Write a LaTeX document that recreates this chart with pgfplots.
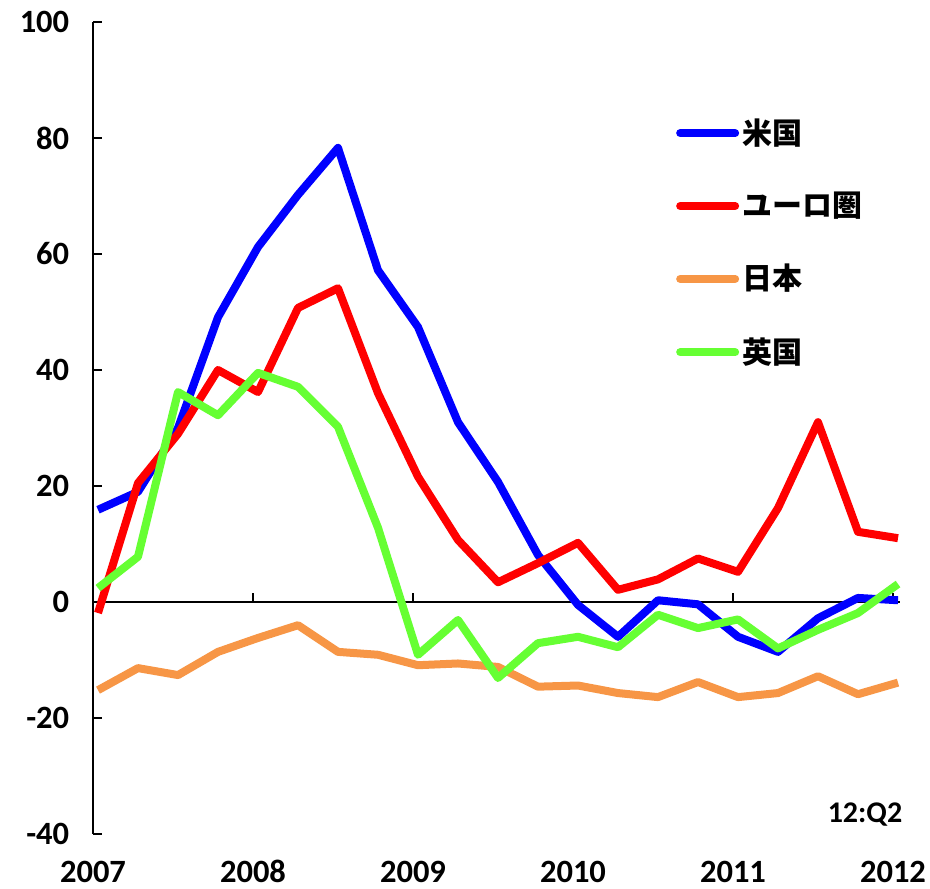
\documentclass[border=0pt]{standalone}
\usepackage{fontspec}
\setmainfont{Carlito}
\newfontfamily\cjk{Noto Sans CJK JP}
\usepackage{pgfplots}
\pgfplotsset{compat=1.18}
\definecolor{cblue}{RGB}{0,0,255}
\definecolor{cred}{RGB}{255,0,0}
\definecolor{corange}{RGB}{247,150,70}
\definecolor{cgreen}{RGB}{102,255,51}
\pgfplotstableread{
i us ez jp uk
0 15.9 -1.9 -15.2 2.4
1 19.0 20.5 -11.4 7.8
2 30.0 29.0 -12.6 36.2
3 49.1 40.0 -8.6 32.2
4 61.2 36.2 -6.2 39.5
5 70.2 50.7 -4.0 37.1
6 78.3 54.1 -8.6 30.2
7 57.2 36.0 -9.1 12.8
8 47.4 21.6 -10.9 -9.1
9 31.0 10.7 -10.6 -3.1
10 20.7 3.4 -11.2 -13.1
11 8.1 6.7 -14.6 -7.1
12 -0.5 10.2 -14.4 -6.0
13 -6.0 2.1 -15.7 -7.8
14 0.3 3.9 -16.4 -2.2
15 -0.4 7.5 -13.8 -4.5
16 -6.0 5.2 -16.4 -3.0
17 -8.6 16.2 -15.7 -8.0
18 -2.8 31.0 -12.8 -4.8
19 0.7 12.1 -15.9 -1.9
20 0.3 11.0 -13.9 3.1
}\datatable
\begin{document}
\begin{tikzpicture}
\useasboundingbox (-37.2pt,-22pt) rectangle (334.8pt,333.6pt);
% zero line with year ticks
\begin{axis}[at={(0pt,92.8pt)}, anchor=south west, scale only axis,
  width=322.8pt, height=232pt, xmin=-0.125, xmax=20.05, ymin=0, ymax=100,
  axis x line*=bottom, axis y line=none,
  xtick={3.875,7.875,11.875,15.875,19.875}, xticklabels={},
  tick align=inside, major tick length=3.6pt,
  x axis line style={line width=0.8pt, black},
  xtick style={line width=0.8pt, black}]
\end{axis}
\begin{axis}[at={(0pt,0pt)}, anchor=south west, scale only axis,
  width=322.8pt, height=324.8pt, xmin=-0.125, xmax=20.05, ymin=-40, ymax=100,
  axis y line*=left, axis x line*=bottom, x axis line style={draw=none},
  xtick={-0.125,3.875,7.875,11.875,15.875,19.875},
  xticklabels={2007,2008,2009,2010,2011,2012},
  xtick style={draw=none},
  ytick={-40,-20,0,20,40,60,80,100},
  tick align=inside, major tick length=3.6pt,
  y axis line style={line width=0.8pt, black},
  ytick style={line width=0.8pt, black},
  /pgf/number format/assume math mode=true,
  yticklabel style={font=\fontsize{13}{15}\selectfont\bfseries, xshift=-6pt},
  xticklabel style={font=\fontsize{13}{15}\selectfont\bfseries, anchor=north,
    text height=9pt, text depth=0pt, inner sep=0pt, yshift=-10pt},
  clip=false,
  legend style={at={(rel axis cs:0.722,0.888)}, anchor=north west, draw=none, fill=none,
    font=\fontsize{12}{14}\selectfont\bfseries, row sep=13.6pt, inner sep=0pt,
    nodes={inner xsep=1.5pt}},
  legend cell align=left,
  legend image code/.code={\draw[#1, line cap=round] (0pt,0pt) -- (22pt,0pt);},
  every axis plot/.append style={line width=3.2pt, line join=round, no markers}]
\addplot[cblue] table[x=i, y=us] {\datatable};
\addlegendentry{\cjk\bfseries 米国}
\addplot[cred] table[x=i, y=ez] {\datatable};
\addlegendentry{\cjk\bfseries ユーロ圏}
\addplot[corange] table[x=i, y=jp] {\datatable};
\addlegendentry{\cjk\bfseries 日本}
\addplot[cgreen] table[x=i, y=uk] {\datatable};
\addlegendentry{\cjk\bfseries 英国}
\node[font=\fontsize{12}{14}\selectfont\bfseries] at (axis cs:19.175,-36.7) {12:Q2};
\end{axis}
\end{tikzpicture}
\end{document}
